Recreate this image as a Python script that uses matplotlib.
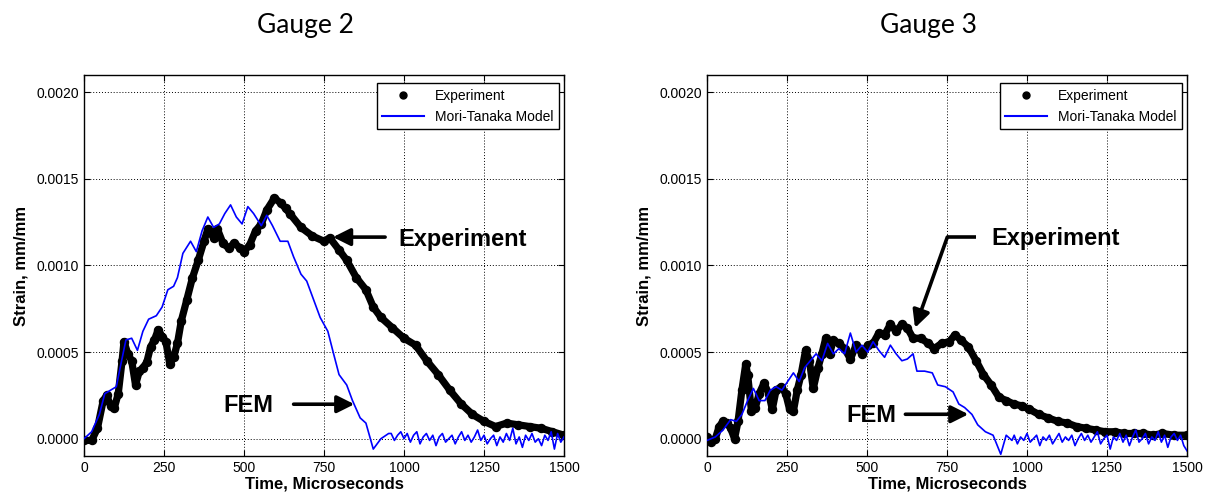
import numpy as np
import matplotlib
matplotlib.use("Agg")
import matplotlib.pyplot as plt
from matplotlib.lines import Line2D

plt.rcParams['font.family'] = ['Liberation Sans', 'DejaVu Sans']

# strain values below are in units of 1e-5 mm/mm, time in microseconds

# Gauge 2 - experiment
exp2_t = [0, 24, 42, 60, 71, 83, 95, 107, 119, 125,
          137, 149, 161, 173, 184, 196, 208, 220, 232, 244,
          256, 268, 280, 292, 304, 321, 339, 357, 375, 387,
          405, 417, 434, 452, 470, 488, 500, 518, 536, 554,
          571, 595, 615, 630, 643, 678, 714, 750, 768, 797,
          821, 851, 881, 904, 928, 964, 1000, 1036, 1071, 1107,
          1143, 1179, 1214, 1250, 1286, 1321, 1357, 1393, 1429, 1464,
          1500]
exp2_s = [-1, -1, 6, 22, 25, 19, 18, 26, 45, 56,
          49, 45, 31, 39, 41, 44, 53, 57, 63, 59,
          56, 43, 47, 55, 68, 80, 93, 103, 114, 121,
          116, 121, 113, 110, 113, 110, 108, 112, 120, 124,
          132, 139, 136, 133, 130, 122, 117, 114, 116, 109,
          103, 93, 86, 76, 70, 64, 58, 54, 45, 37,
          28, 20, 14, 10, 7, 9, 8, 7, 6, 4,
          2]

# Gauge 2 - FEM (Mori-Tanaka)
fem2_t = [0, 24, 48, 65, 83, 101, 113, 131, 149, 167,
          184, 202, 226, 244, 262, 280, 292, 309, 333, 351,
          369, 387, 405, 423, 440, 458, 476, 494, 512, 530,
          554, 571, 589, 613, 637, 655, 678, 696, 714, 738,
          762, 780, 797, 821, 839, 863, 881, 904, 928, 952]
fem2_s = [0, 4, 14, 26, 28, 30, 41, 57, 58, 51,
          62, 69, 71, 76, 86, 88, 93, 107, 114, 108,
          120, 128, 122, 124, 130, 135, 128, 124, 134, 130,
          123, 129, 123, 114, 114, 105, 95, 91, 82, 70,
          62, 49, 37, 31, 22, 12, 9, -6, 0, 3]
fem2_tail = [3, -1, 2, 4, 0, 3, -2, 2, 4, -3,
             1, 3, -1, 2, -4, 1, 3, -2, 0, 2,
             -3, 1, 4, -1, 2, -2, 1, 5, -1, 2,
             -3, 0, 2, -4, 1, -2, 3, -1, 6, -3,
             1, -5, 2, -1, 3, -2, 0, -4, 2, -1,
             4, -6, 3, -2, 1]

# Gauge 3 - experiment
exp3_t = [0, 14, 26, 38, 50, 62, 74, 86, 97, 109,
          121, 127, 139, 151, 163, 178, 193, 204, 216, 232,
          246, 258, 270, 282, 294, 308, 320, 332, 347, 359,
          371, 383, 395, 412, 430, 448, 466, 484, 502, 519,
          537, 555, 573, 591, 609, 626, 644, 668, 692, 710,
          733, 757, 775, 793, 817, 841, 864, 888, 912, 935,
          959, 983, 1007, 1037, 1066, 1096, 1126, 1155, 1185, 1215,
          1244, 1274, 1304, 1333, 1363, 1393, 1423, 1460, 1500]
exp3_s = [1, -2, 0, 7, 10, 9, 6, 0, 10, 28,
          43, 37, 16, 18, 26, 32, 26, 17, 28, 30,
          26, 17, 16, 28, 37, 51, 45, 29, 41, 49,
          58, 49, 57, 55, 52, 46, 54, 49, 54, 55,
          61, 60, 66, 62, 66, 64, 58, 58, 55, 52,
          55, 56, 60, 57, 53, 45, 37, 31, 24, 22,
          20, 19, 17, 14, 12, 10, 9, 7, 6, 5,
          4, 4, 3, 3, 3, 2, 3, 2, 2]

# Gauge 3 - FEM (Mori-Tanaka)
fem3_t = [0, 26, 50, 74, 92, 109, 127, 145, 163, 181,
          198, 216, 234, 252, 270, 288, 305, 323, 341, 359,
          377, 395, 412, 430, 448, 466, 484, 502, 519, 537,
          555, 573, 591, 609, 626, 644, 656, 680, 704, 721,
          745, 769, 787, 805, 828, 846, 870, 894, 918, 935,
          953]
fem3_s = [-1, 1, 5, 11, 10, 14, 22, 29, 22, 22,
          28, 30, 28, 33, 38, 33, 41, 45, 49, 45,
          55, 49, 52, 49, 61, 50, 54, 50, 56, 51,
          47, 54, 49, 45, 46, 49, 39, 39, 38, 31,
          30, 27, 20, 18, 14, 8, 4, 2, -9, 2,
          -1]
fem3_tail = [2, -3, 1, -1, 3, -2, 0, 2, -4, 1,
             -1, 2, -3, 0, 3, -2, 1, -1, 2, -4,
             0, 3, -1, 2, -2, 1, 4, -3, 0, 2,
             -6, 1, -1, 3, -2, 2, -4, 1, 5, -2,
             0, 3, -3, 1, -1, 4, -2, 2, -5, 1,
             3, -1, 2, -4, -7]

tail_t = np.arange(960, 1501, 10)

titles = ["Gauge 2", "Gauge 3"]
xticks = [0, 250, 500, 750, 1000, 1250, 1500]
yticks = [0.0, 0.0005, 0.0010, 0.0015, 0.0020]


def to_strain(v):
    return np.array(v, dtype=float) * 1e-5


def style_axes(ax):
    ax.set_xlim(0, 1500)
    ax.set_ylim(-0.0001, 0.0021)
    ax.set_xticks(xticks)
    ax.set_yticks(yticks)
    ax.set_yticklabels(["%.4f" % v for v in yticks])
    ax.tick_params(direction='in', length=4, top=True, right=True, labelsize=10, width=0.8)
    ax.grid(True, color='k', linestyle=(0, (1, 2)), linewidth=0.7)
    for sp in ax.spines.values():
        sp.set_linewidth(1.0)
    ax.set_xlabel("Time, Microseconds", fontsize=12, fontweight='bold', labelpad=1)
    ax.set_ylabel("Strain, mm/mm", fontsize=12, fontweight='bold', labelpad=6)
    handles = [Line2D([], [], marker='o', ls='none', color='k', ms=5),
               Line2D([], [], color='blue', lw=1.5)]
    leg = ax.legend(handles, ["Experiment", "Mori-Tanaka Model"], loc='upper right',
                    bbox_to_anchor=(0.99, 0.979), borderaxespad=0, fontsize=10,
                    fancybox=False, framealpha=1, edgecolor='k', handlelength=3)
    leg.get_frame().set_linewidth(1.0)


def arrow(ax, tail, tip):
    ax.annotate("", xy=tip, xytext=tail,
                arrowprops=dict(arrowstyle='-|>', color='k', lw=2.6, mutation_scale=26,
                                shrinkA=0, shrinkB=0))


fig = plt.figure(figsize=(12.11, 4.98), dpi=100)
ax1 = fig.add_axes([84 / 1211, 1 - 456 / 498, 480 / 1211, 381 / 498])
ax2 = fig.add_axes([707 / 1211, 1 - 456 / 498, 480 / 1211, 381 / 498])

# Gauge 2
fem2_all_t = np.concatenate([fem2_t, tail_t])
fem2_all_s = np.concatenate([to_strain(fem2_s), to_strain(fem2_tail)])
ax1.plot(exp2_t, to_strain(exp2_s), '-o', color='k', lw=5.2, ms=5.8, zorder=3)
ax1.plot(fem2_all_t, fem2_all_s, color='blue', lw=1.2, zorder=4)
style_axes(ax1)
ax1.text(981, 0.00115, "Experiment", fontsize=17, fontweight='bold', va='center', ha='left')
arrow(ax1, (941, 0.001164), (778, 0.001164))
ax1.text(434, 0.000189, "FEM", fontsize=17, fontweight='bold', va='center', ha='left')
arrow(ax1, (655, 0.000199), (845, 0.000199))

# Gauge 3
fem3_all_t = np.concatenate([fem3_t, tail_t])
fem3_all_s = np.concatenate([to_strain(fem3_s), to_strain(fem3_tail)])
ax2.plot(exp3_t, to_strain(exp3_s), '-o', color='k', lw=5.2, ms=5.8, zorder=3)
ax2.plot(fem3_all_t, fem3_all_s, color='blue', lw=1.2, zorder=4)
style_axes(ax2)
ax2.text(888, 0.001154, "Experiment", fontsize=17, fontweight='bold', va='center', ha='left')
ax2.plot([840, 751], [0.001164, 0.001164], color='k', lw=2.6, solid_capstyle='butt')
arrow(ax2, (751, 0.001164), (650, 0.000640))
ax2.text(436, 0.000131, "FEM", fontsize=17, fontweight='bold', va='center', ha='left')
arrow(ax2, (620, 0.000141), (817, 0.000141))

fig.text(305 / 1211, 1 - 25 / 498, titles[0], fontsize=19, family=['Lato', 'DejaVu Sans'],
         ha='center', va='center')
fig.text(928 / 1211, 1 - 25 / 498, titles[1], fontsize=19, family=['Lato', 'DejaVu Sans'],
         ha='center', va='center')

fig.savefig("out.png", dpi=100)
